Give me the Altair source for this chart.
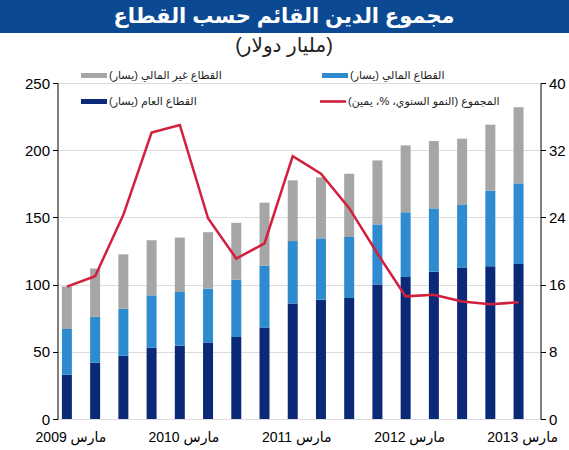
import altair as alt
import pandas as pd

RLM = "\u200f"

# ---- data ----
quarters = ["مارس 2009", "يونيو 2009", "سبتمبر 2009", "ديسمبر 2009",
            "مارس 2010", "يونيو 2010", "سبتمبر 2010", "ديسمبر 2010",
            "مارس 2011", "يونيو 2011", "سبتمبر 2011", "ديسمبر 2011",
            "مارس 2012", "يونيو 2012", "سبتمبر 2012", "ديسمبر 2012",
            "مارس 2013"]
public_sector = [33, 42, 47, 53, 54.5, 57, 61, 68, 86, 88.8, 90, 100, 105.6, 109.6, 112.4, 113.6, 115.3]
financial_sector = [34, 34, 35, 39, 40, 40, 42.6, 46, 46.4, 45.6, 45.4, 44.8, 48.2, 47.1, 47.3, 56.3, 60]
nonfinancial_sector = [31.5, 36, 40.5, 41, 40.5, 42, 42.4, 47, 45.2, 45.4, 47.1, 47.6, 49.8, 50.1, 48.9, 49.1, 56.7]
total_growth = [15.75, 17.0, 24.3, 34.1, 35.0, 23.9, 19.1, 20.9, 31.3, 29.2, 25.1, 19.7, 14.6, 14.8, 14.0, 13.65, 13.9]

sector_names = ["القطاع العام (يسار)", "القطاع المالي (يسار)", "القطاع غير المالي (يسار)"]
sector_colors = ["#0A2A78", "#2E8BCF", "#A6A6A6"]
line_name = "المجموع (النمو السنوي، %، يمين)"
line_color = "#D21F3C"

title_text = "مجموع الدين القائم حسب القطاع"
subtitle_text = RLM + "(مليار دولار)" + RLM

left_ticks = [0, 50, 100, 150, 200, 250]
right_ticks = [0, 8, 16, 24, 32, 40]

# ---- tables ----
rows = []
for i, q in enumerate(quarters):
    for k, vals in enumerate([public_sector, financial_sector, nonfinancial_sector]):
        rows.append({"idx": i, "quarter": q, "sector": sector_names[k], "ord": k, "value": vals[i]})
bars_df = pd.DataFrame(rows)
line_df = pd.DataFrame({"idx": list(range(len(quarters))), "quarter": quarters, "growth": total_growth})
lab_df = pd.DataFrame({"idx": [i for i, q in enumerate(quarters) if q.startswith("مارس")],
                       "label": [q for q in quarters if q.startswith("مارس")]})
one = pd.DataFrame({"a": [0]})

W, H = 483, 336
X0 = -0.156
XDOM = [X0, 16.6]
xscale = alt.Scale(domain=XDOM, nice=False, zero=False)
minor_ticks = [round(X0 + 0.25 * k, 4) for k in range(68) if X0 + 0.25 * k <= 16.6]

FONT = "Liberation Sans, DejaVu Sans, sans-serif"

bars = alt.Chart(bars_df).mark_bar(width=10).encode(
    x=alt.X("idx:Q", scale=xscale,
            axis=alt.Axis(values=minor_ticks, labels=False, ticks=True, tickSize=5,
                          tickColor="black", domainColor="black", grid=False, title=None)),
    y=alt.Y("value:Q", stack="zero", scale=alt.Scale(domain=[0, 250], nice=False),
            axis=alt.Axis(values=left_ticks, title=None, grid=True, gridColor="#DCDCDC",
                          tickSize=5, tickColor="black", domainColor="black",
                          labelFontSize=15, labelColor="black", labelFont=FONT, labelPadding=3)),
    color=alt.Color("sector:N", scale=alt.Scale(domain=sector_names, range=sector_colors), legend=None),
    order=alt.Order("ord:Q"),
)

line = alt.Chart(line_df).mark_line(color=line_color, strokeWidth=2.5).encode(
    x=alt.X("idx:Q", scale=xscale, axis=None),
    y=alt.Y("growth:Q", scale=alt.Scale(domain=[0, 40], nice=False),
            axis=alt.Axis(orient="right", values=right_ticks, title=None, grid=False,
                          tickSize=5, tickColor="black", domainColor="black",
                          labelFontSize=15, labelColor="black", labelFont=FONT, labelPadding=3)),
)

xlabels = alt.Chart(lab_df).mark_text(fontSize=14, font=FONT, baseline="middle", dx=4, color="black").encode(
    x=alt.X("idx:Q", scale=xscale, axis=None),
    y=alt.value(H + 19),
    text="label:N",
)

title_bar = alt.Chart(one).mark_rect(color="#0B4A93").encode(
    x=alt.value(-57.5), x2=alt.value(511.5), y=alt.value(-83), y2=alt.value(-50))
title = alt.Chart(one).mark_text(fontSize=21, fontWeight="bold", color="white", font=FONT,
                                 align="center", baseline="middle").encode(
    x=alt.value(226.5), y=alt.value(-66), text=alt.value(title_text))
subtitle = alt.Chart(one).mark_text(fontSize=20, color="#222222", font=FONT,
                                    align="center", baseline="middle").encode(
    x=alt.value(226.5), y=alt.value(-37), text=alt.value(subtitle_text))

# legend entries: (label, color, kind) with layout positions
legend_labels = [sector_names[2], sector_names[1], sector_names[0], line_name]
legend_colors = [sector_colors[2], sector_colors[1], sector_colors[0], line_color]
legend_kinds = ["bar", "bar", "bar", "line"]
legend_pos = [(23.5, -7.5), (264.5, -7.5), (23.5, 18.5), (262.5, 18.5)]

legend_layers = []
for lab, col, kind, (lx, ly) in zip(legend_labels, legend_colors, legend_kinds, legend_pos):
    hh = 2.5 if kind == "bar" else 1.3
    legend_layers.append(alt.Chart(one).mark_rect(color=col).encode(
        x=alt.value(lx), x2=alt.value(lx + 26), y=alt.value(ly - hh), y2=alt.value(ly + hh)))
    legend_layers.append(alt.Chart(one).mark_text(fontSize=11, font=FONT, color="#222222",
                                                  align="left", baseline="middle").encode(
        x=alt.value(lx + 28), y=alt.value(ly), text=alt.value(lab + RLM)))

chart = alt.layer(bars, line, xlabels, title_bar, title, subtitle, *legend_layers).resolve_scale(
    y="independent"
).properties(
    width=W, height=H, autosize="none",
    padding={"left": 57.5, "top": 83, "right": 28.5, "bottom": 31},
    background="white",
).configure_view(stroke=None)

chart.save("out.html", embed_options={"renderer": "svg", "actions": False})
